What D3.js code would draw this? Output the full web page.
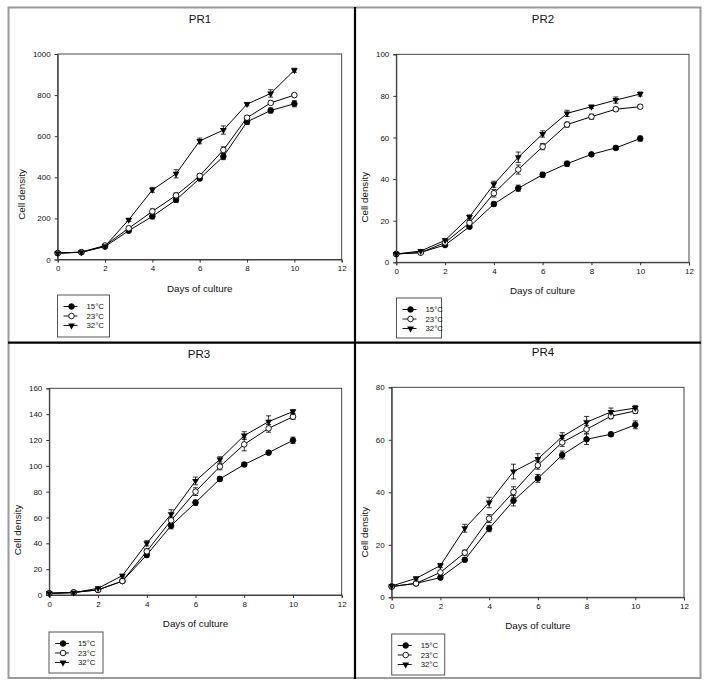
<!DOCTYPE html>
<html lang="en">
  <head>
    <meta charset="utf-8">
    <title>Cell density by temperature</title>
    <script src="https://d3js.org/d3.v7.min.js"></script>
    <style>
      body{ margin:0; background:#fff; }
      text{ font-family:"Liberation Sans", Arial, sans-serif; fill:#111; }
    </style>
  </head>
  <body>
<svg id="chart"></svg>
<script>
// ---- data ----
var days = [0,1,2,3,4,5,6,7,8,9,10];
var temps = ["15°C","23°C","32°C"];
var panelNames = ["PR1","PR2","PR3","PR4"];
var yMaxes = [1000,100,160,80];
var yStep = [200,20,20,20];
var xTicks = [0,2,4,6,8,10,12];

var pr1_15 = [31,35,63,140,210,290,394,501,670,725,758];
var pr1_23 = [31,36,68,152,234,312,407,533,690,762,800];
var pr1_32 = [31,36,65,193,339,417,577,630,756,808,921];
var pr1_15e = [4,4,5,8,12,12,10,15,12,12,15];
var pr1_23e = [4,4,5,8,12,12,10,15,10,8,8];
var pr1_32e = [4,4,5,8,12,20,14,20,8,18,10];

var pr2_15 = [4.0,4.8,8.3,17.1,28.0,35.6,42.1,47.4,51.9,55.0,59.5];
var pr2_23 = [4.0,4.6,9.5,19.0,33.2,44.6,55.6,66.2,70.0,73.6,74.8];
var pr2_32 = [4.0,5.4,10.6,21.8,37.5,50.5,61.7,71.6,74.8,78.0,80.9];
var pr2_15e = [0.5,0.5,0.6,0.8,1.0,1.5,1.2,1.2,0.8,0.8,1.2];
var pr2_23e = [0.5,0.5,0.6,1.0,1.8,2.2,1.5,1.2,1.2,1.0,0.8];
var pr2_32e = [0.5,0.5,0.6,1.0,1.5,2.5,1.5,1.5,0.8,1.5,1.0];

var pr3_15 = [1.3,2.0,4.0,10.8,31.0,53.7,71.5,89.8,101.0,110.2,119.7];
var pr3_23 = [1.3,2.0,3.9,10.8,33.8,57.8,80.0,99.4,116.6,129.0,138.0];
var pr3_32 = [1.3,1.8,5.2,15.0,40.0,62.5,88.3,105.0,123.4,134.2,142.0];
var pr3_15e = [0.5,0.5,0.8,1.0,2.0,2.5,2.0,2.0,1.5,1.5,2.5];
var pr3_23e = [0.5,0.5,0.8,1.0,2.0,2.5,3.0,2.5,5.0,3.0,2.0];
var pr3_32e = [0.5,0.5,0.8,1.0,2.0,3.5,3.0,2.0,3.0,4.5,1.5];

var pr4_15 = [4.1,5.3,7.5,14.3,26.2,36.8,45.3,54.2,60.2,62.1,65.7];
var pr4_23 = [4.1,5.3,9.5,17.0,30.0,40.1,50.3,59.0,64.0,69.0,71.0];
var pr4_32 = [4.3,7.2,12.1,26.3,36.1,47.9,52.7,61.2,66.7,70.6,72.1];
var pr4_15e = [0.4,0.4,0.6,0.8,1.2,2.0,1.5,1.5,2.0,0.8,1.5];
var pr4_23e = [0.4,0.4,0.6,1.0,1.5,2.0,1.5,1.5,1.5,1.0,1.0];
var pr4_32e = [0.4,0.6,0.8,1.5,2.0,2.8,2.0,1.5,2.2,1.5,1.0];

var panelSeries = [
  [[pr1_15,pr1_15e],[pr1_23,pr1_23e],[pr1_32,pr1_32e]],
  [[pr2_15,pr2_15e],[pr2_23,pr2_23e],[pr2_32,pr2_32e]],
  [[pr3_15,pr3_15e],[pr3_23,pr3_23e],[pr3_32,pr3_32e]],
  [[pr4_15,pr4_15e],[pr4_23,pr4_23e],[pr4_32,pr4_32e]]
];

// ---- layout of each panel ----
var layouts = [
  {x0:57.7, x1:341.7, yT:54, yB:259.5, tx:200, ty:19, lx:21, leg:{x:57.5, y:295, w:52, h:42}},
  {x0:396.3, x1:689, yT:54.3, yB:262.3, tx:543, ty:19, lx:364, leg:{x:396.5, y:298, w:45, h:40}},
  {x0:49.3, x1:341.7, yT:388.3, yB:595, tx:199, ty:354, lx:17, leg:{x:49, y:632, w:54, h:41}},
  {x0:391.7, x1:684, yT:387.3, yB:597.3, tx:543, ty:352, lx:364, leg:{x:391.7, y:634, w:53, h:41}}
];

var width = 709, height = 686;
var svg = d3.select("#chart").attr("width",width).attr("height",height);

// outer frame + black dividers
svg.append("rect").attr("x",8.5).attr("y",7.5).attr("width",692).attr("height",670.5)
   .attr("fill","none").attr("stroke","#9a9a9a").attr("stroke-width",2);
svg.append("line").attr("x1",355).attr("x2",355).attr("y1",7).attr("y2",679)
   .attr("stroke","#000").attr("stroke-width",2.2);
svg.append("line").attr("x1",8).attr("x2",701).attr("y1",342.7).attr("y2",342.7)
   .attr("stroke","#000").attr("stroke-width",2.2);

function drawMarker(g, kind, x, y){
  if(kind===2){
    g.append("path")
     .attr("d", d3.symbol().type(d3.symbolTriangle).size(20)())
     .attr("transform","translate("+x+","+y+") rotate(180)")
     .attr("fill","#000");
  } else {
    g.append("circle").attr("cx",x).attr("cy",y).attr("r",2.8)
     .attr("fill", kind===0 ? "#000" : "#fff")
     .attr("stroke","#000").attr("stroke-width",0.9);
  }
}

function drawPanel(i){
  var L = layouts[i];
  var g = svg.append("g");
  var x = d3.scaleLinear().domain([0,12]).range([L.x0,L.x1]);
  var y = d3.scaleLinear().domain([0,yMaxes[i]]).range([L.yB,L.yT]);

  // plot box
  g.append("rect").attr("x",L.x0).attr("y",L.yT)
   .attr("width",L.x1-L.x0).attr("height",L.yB-L.yT)
   .attr("fill","none").attr("stroke","#333").attr("stroke-width",0.9);

  var xa = g.append("g").attr("transform","translate(0,"+L.yB+")")
    .call(d3.axisBottom(x).tickValues(xTicks).tickSize(3).tickPadding(3).tickFormat(d3.format("d")));
  var ya = g.append("g").attr("transform","translate("+L.x0+",0)")
    .call(d3.axisLeft(y).tickValues(d3.range(0,yMaxes[i]+1,yStep[i])).tickSize(3).tickPadding(4).tickFormat(d3.format("d")));
  [xa,ya].forEach(function(a){
    a.select(".domain").attr("stroke","#333").attr("stroke-width",0.9);
    a.selectAll(".tick line").attr("stroke","#333");
    a.selectAll("text").attr("font-size",8).attr("fill","#222")
     .attr("font-family","Liberation Sans, Arial, sans-serif");
  });

  g.append("text").text(panelNames[i]).attr("x",L.tx).attr("y",L.ty+4)
   .attr("text-anchor","middle").attr("font-size",11.5);
  g.append("text").text("Days of culture").attr("x",(L.x0+L.x1)/2).attr("y",L.yB+32)
   .attr("text-anchor","middle").attr("font-size",9.8);
  g.append("text").text("Cell density")
   .attr("transform","translate("+(L.lx+3.5)+","+(L.yB-65)+") rotate(-90)")
   .attr("text-anchor","middle").attr("font-size",9.8);

  var line = d3.line().x(function(d){return x(d[0]);}).y(function(d){return y(d[1]);});
  panelSeries[i].forEach(function(s,k){
    var vals = s[0], errs = s[1];
    var pts = days.map(function(d,j){return [d, vals[j]];});
    g.append("path").attr("d",line(pts)).attr("fill","none")
     .attr("stroke","#000").attr("stroke-width",1);
    days.forEach(function(d,j){
      var cx = x(d), yl = y(vals[j]-errs[j]), yh = y(vals[j]+errs[j]);
      g.append("line").attr("x1",cx).attr("x2",cx).attr("y1",yl).attr("y2",yh).attr("stroke","#000").attr("stroke-width",0.8);
      g.append("line").attr("x1",cx-2.5).attr("x2",cx+2.5).attr("y1",yl).attr("y2",yl).attr("stroke","#000").attr("stroke-width",0.8);
      g.append("line").attr("x1",cx-2.5).attr("x2",cx+2.5).attr("y1",yh).attr("y2",yh).attr("stroke","#000").attr("stroke-width",0.8);
    });
  });
  panelSeries[i].forEach(function(s,k){
    days.forEach(function(d,j){ drawMarker(g,k,x(d),y(s[0][j])); });
  });

  // legend
  var lg = L.leg;
  g.append("rect").attr("x",lg.x).attr("y",lg.y).attr("width",lg.w).attr("height",lg.h)
   .attr("fill","#fff").attr("stroke","#555").attr("stroke-width",1);
  temps.forEach(function(t,k){
    var ry = lg.y + 11.5 + k*9.5;
    g.append("line").attr("x1",lg.x+6).attr("x2",lg.x+20).attr("y1",ry).attr("y2",ry)
     .attr("stroke","#000").attr("stroke-width",0.9);
    drawMarker(g,k,lg.x+14,ry);
    g.append("text").text(t).attr("x",lg.x+29).attr("y",ry+2.8).attr("font-size",7.8);
  });
}

panelNames.forEach(function(n,i){ drawPanel(i); });
</script>
  </body>
</html>
